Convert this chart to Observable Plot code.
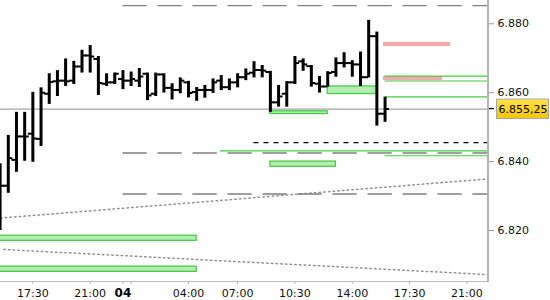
<!DOCTYPE html>
<html>
<head>
<meta charset="utf-8">
<script src="https://cdn.jsdelivr.net/npm/d3@7"></script>
<script src="https://cdn.jsdelivr.net/npm/@observablehq/plot@0.6"></script>
<style>
  html, body { margin: 0; padding: 0; background: #fff; }
  svg { display: block; }
</style>
</head>
<body>
<div id="chart"></div>
<script>
// ---- data (30-minute bars, x = bar slot) ----
const barSlots = [0,1,2,3,4,5,6,7,8,9,10,11,12,13,14,15,16,17,18,19,20,21,22,23,24,25,26,27,28,29,30,31,32,33,34,35,36,37,38,39,40,41,42,43,44,45,46,47];
const opens  = [6.8380,6.8330,6.8405,6.8473,6.8481,6.8466,6.8597,6.8633,6.8635,6.8635,6.8676,6.8708,6.8698,6.8626,6.8630,6.8640,6.8635,6.8635,6.8655,6.8597,6.8653,6.8614,6.8608,6.8630,6.8602,6.8608,6.8608,6.8635,6.8616,6.8630,6.8645,6.8658,6.8666,6.8660,6.8572,6.8597,6.8630,6.8691,6.8677,6.8626,6.8618,6.8660,6.8686,6.8686,6.8682,6.8645,6.8764,6.8539];
const highs  = [6.8394,6.8476,6.8543,6.8543,6.8601,6.8614,6.8655,6.8664,6.8698,6.8691,6.8723,6.8737,6.8705,6.8655,6.8657,6.8664,6.8660,6.8670,6.8657,6.8657,6.8655,6.8626,6.8643,6.8633,6.8615,6.8621,6.8640,6.8650,6.8640,6.8655,6.8669,6.8690,6.8679,6.8662,6.8621,6.8632,6.8705,6.8698,6.8679,6.8647,6.8661,6.8701,6.8716,6.8693,6.8718,6.8810,6.8776,6.8587];
const lows   = [6.8200,6.8308,6.8369,6.8401,6.8398,6.8444,6.8566,6.8589,6.8618,6.8624,6.8657,6.8657,6.8592,6.8618,6.8624,6.8609,6.8618,6.8615,6.8577,6.8589,6.8599,6.8579,6.8597,6.8585,6.8575,6.8584,6.8598,6.8606,6.8606,6.8614,6.8635,6.8643,6.8643,6.8543,6.8558,6.8558,6.8624,6.8662,6.8616,6.8599,6.8616,6.8645,6.8672,6.8645,6.8618,6.8643,6.8503,6.8514];
const closes = [6.8330,6.8410,6.8473,6.8473,6.8467,6.8600,6.8631,6.8635,6.8633,6.8676,6.8708,6.8705,6.8628,6.8630,6.8655,6.8635,6.8640,6.8647,6.8592,6.8653,6.8614,6.8608,6.8635,6.8599,6.8608,6.8608,6.8630,6.8616,6.8630,6.8645,6.8655,6.8666,6.8664,6.8572,6.8589,6.8630,6.8686,6.8682,6.8628,6.8618,6.8657,6.8686,6.8686,6.8682,6.8645,6.8764,6.8539,6.85525];
const lastPrice = 6.85525;
const lastPriceLabel = "6.855,25";

// axes
const xDomain = [0.05, 59.63];
const yDomain = [6.8052, 6.88676];
const yTicks = [6.82, 6.84, 6.86, 6.88];
const xTickSlots = [4, 11, 15, 16, 23, 29, 36, 43, 50, 57];
const xLabelSlots = [4, 11, 23, 29, 36, 43, 50, 57];
const xLabels = ["17:30", "21:00", "04:00", "07:00", "10:30", "14:00", "17:30", "21:00"];
const dayLabelSlots = [15];
const dayLabels = ["04"];

// previous-day levels (gray long dashes)
const grayLevels = [6.8853, 6.8425, 6.8306];
const grayLevelStart = 15;
// black short-dash level
const blackLevels = [6.8455];
const blackLevelStart = 31;

// dotted trend channels
const trendId    = ["up", "up", "down", "down"];
const trendSlot  = [0.05, 59.63, 0.45, 59.63];
const trendValue = [6.8236, 6.8350, 6.8145, 6.8072];

// green zones
const zoneStart = [-1, -1, 33, 33, 40];
const zoneEnd   = [24, 24, 41, 40, 46];
const zoneLow   = [6.8170, 6.8080, 6.8385, 6.8538, 6.8596];
const zoneHigh  = [6.8185, 6.8095, 6.8400, 6.8546, 6.8618];

// pink zones
const pinkStart = [46.8, 46.8];
const pinkEnd   = [55, 54];
const pinkLow   = [6.8734, 6.8635];
const pinkHigh  = [6.8746, 6.8647];

// green level lines
const greenLineStart = [47, 47, 47, 26.9, 47];
const greenLineValue = [6.8648, 6.8634, 6.8588, 6.8431, 6.8417];

// ---- build tables ----
const bars = barSlots.map((s, i) => ({slot: s, open: opens[i], high: highs[i], low: lows[i], close: closes[i]}));
const trends = trendId.map((id, i) => ({id, slot: trendSlot[i], value: trendValue[i]}));
const zones = zoneStart.map((s, i) => ({x1: s, x2: zoneEnd[i], y1: zoneLow[i], y2: zoneHigh[i]}));
const pinks = pinkStart.map((s, i) => ({x1: s, x2: pinkEnd[i], y1: pinkLow[i], y2: pinkHigh[i]}));
const greenLines = greenLineStart.map((s, i) => ({x1: s, y: greenLineValue[i]}));
const xLabelData = xLabelSlots.map((s, i) => ({slot: s, label: xLabels[i]}));
const dayLabelData = dayLabelSlots.map((s, i) => ({slot: s, label: dayLabels[i]}));

const FONT = "DejaVu Sans, Verdana, sans-serif";

function frameAndPrice(index, scales, values, dimensions) {
  const {width, height, marginRight, marginBottom} = dimensions;
  const xr = width - marginRight;
  const yb = height - marginBottom;
  const g = d3.create("svg:g");
  // bottom axis line
  g.append("line").attr("x1", 0).attr("x2", xr).attr("y1", yb + 0.5).attr("y2", yb + 0.5)
    .attr("stroke", "#bdbdbd").attr("stroke-width", 1);
  // right axis line
  g.append("line").attr("x1", xr).attr("x2", xr).attr("y1", 0).attr("y2", yb + 1)
    .attr("stroke", "#b4b4b4").attr("stroke-width", 2);
  const yp = scales.y(lastPrice);
  // price tick
  g.append("line").attr("x1", xr + 1).attr("x2", xr + 6).attr("y1", yp).attr("y2", yp)
    .attr("stroke", "#000").attr("stroke-width", 1.3);
  // gradient
  const defs = g.append("defs");
  const grad = defs.append("linearGradient").attr("id", "pxgrad").attr("x1", 0).attr("x2", 0).attr("y1", 0).attr("y2", 1);
  grad.append("stop").attr("offset", "0%").attr("stop-color", "#ffe24a");
  grad.append("stop").attr("offset", "100%").attr("stop-color", "#f7c400");
  g.append("rect").attr("x", xr + 8.5).attr("y", yp - 9.5).attr("width", 52).attr("height", 19.5)
    .attr("fill", "url(#pxgrad)").attr("stroke", "#a8a8a8").attr("stroke-width", 1);
  g.append("text").attr("x", xr + 10.5).attr("y", yp + 0.5)
    .attr("text-anchor", "start")
    .attr("dominant-baseline", "central")
    .attr("font-family", FONT).attr("font-size", 11).attr("fill", "#000")
    .text(lastPriceLabel);
  return g.node();
}

const chart = Plot.plot({
  width: 550,
  height: 300,
  marginLeft: 0,
  marginRight: 62,
  marginTop: 0,
  marginBottom: 19,
  x: {type: "linear", domain: xDomain, axis: null},
  y: {type: "linear", domain: yDomain, axis: null},
  style: {fontFamily: FONT, fontSize: "11px", background: "#fff", color: "#111"},
  marks: [
    // dotted trend lines
    Plot.line(trends, {x: "slot", y: "value", z: "id", stroke: "#909090", strokeWidth: 1.5, strokeDasharray: "1.5,3.2", clip: true}),
    // gray long-dashed levels
    Plot.ruleY(grayLevels, {x1: () => grayLevelStart, x2: () => xDomain[1], stroke: "#808080", strokeWidth: 1.3, strokeDasharray: "24.3,10.7", clip: true}),
    // black short-dashed level
    Plot.ruleY(blackLevels, {x1: () => blackLevelStart, x2: () => xDomain[1], stroke: "#000", strokeWidth: 1.3, strokeDasharray: "5,5", clip: true}),
    // last-price line
    Plot.ruleY([lastPrice], {stroke: "#a3a3a3", strokeWidth: 1.3}),
    // green zones
    Plot.rect(zones, {x1: "x1", x2: "x2", y1: "y1", y2: "y2", fill: "#b4ecb4", stroke: "#48cd48", strokeWidth: 1.3, clip: true}),
    // pink zones
    Plot.rect(pinks, {x1: "x1", x2: "x2", y1: "y1", y2: "y2", fill: "#f3a9a9", clip: true}),
    // green level lines
    Plot.ruleY(greenLines, {y: "y", x1: "x1", x2: () => xDomain[1], stroke: "#44cc44", strokeWidth: 1.2, clip: true}),
    // OHLC bars
    Plot.ruleX(bars, {x: "slot", y1: "low", y2: "high", stroke: "#000", strokeWidth: 3, clip: true}),
    Plot.ruleY(bars, {y: "open", x1: d => d.slot - 0.55, x2: "slot", stroke: "#000", strokeWidth: 2, clip: true}),
    Plot.ruleY(bars, {y: "close", x1: "slot", x2: d => d.slot + 0.55, stroke: "#000", strokeWidth: 2, clip: true}),
    // axes
    Plot.axisY(yTicks, {anchor: "right", tickSize: 5, tickPadding: 4, tickFormat: d3.format(".3f"), stroke: "#9a9a9a", fill: "#111", fontSize: 11}),
    Plot.axisX(xTickSlots, {anchor: "bottom", tickSize: 3, tickFormat: () => "", stroke: "#b0b0b0"}),
    Plot.text(xLabelData, {x: "slot", text: "label", frameAnchor: "bottom", dy: 11.5, lineAnchor: "middle", fill: "#111", fontSize: 11}),
    Plot.text(dayLabelData, {x: "slot", text: "label", frameAnchor: "bottom", dy: 11.5, lineAnchor: "middle", fill: "#000", fontSize: 12, fontWeight: "bold"}),
    frameAndPrice
  ]
});

document.getElementById("chart").appendChild(chart);
</script>
</body>
</html>
